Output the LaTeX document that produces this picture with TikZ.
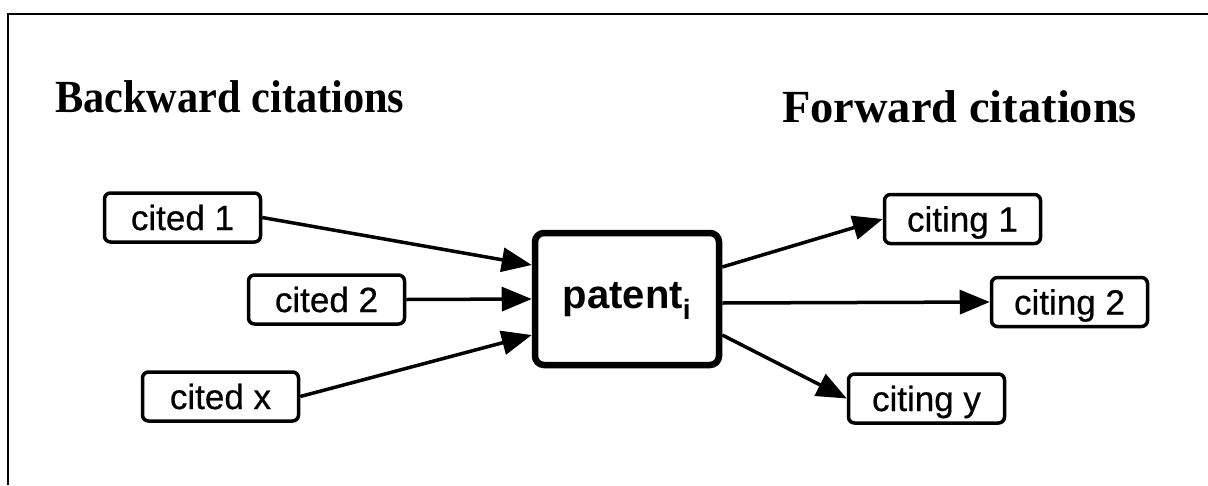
\documentclass[tikz,border=0pt]{standalone}
\usepackage{fontspec}
\setmainfont{Liberation Sans}
\newfontfamily\boxfont[FakeBold=0.6]{Liberation Sans}
\newfontfamily\titlefont[FakeStretch=0.92]{Liberation Serif}
\newfontfamily\titlefontb[FakeStretch=1.01]{Liberation Serif}
\usetikzlibrary{arrows.meta}
\begin{document}
\begin{tikzpicture}[x=1pt,y=-1pt,
  smallbox/.style={draw, line width=3.5pt, rounded corners=6pt, minimum width=156pt, minimum height=49pt,
    inner sep=0pt, text height=25pt, text depth=0pt, font=\fontsize{35}{40}\selectfont\boxfont},
  bigbox/.style={draw, line width=6.5pt, rounded corners=9pt, minimum width=184pt, minimum height=132pt,
    inner sep=0pt, text height=29pt, text depth=11pt, font=\fontsize{40}{46}\selectfont\bfseries},
  title/.style={anchor=base west, inner sep=0pt, font=\fontsize{46}{52}\selectfont\titlefont\bfseries},
  titleb/.style={anchor=base west, inner sep=0pt, font=\fontsize{46}{52}\selectfont\titlefontb\bfseries},
  conn/.style={line width=3.5pt, -{Triangle[length=30pt,width=24pt]}}
]
\useasboundingbox (0,0) rectangle (1208,485);
\fill[white] (0,0) rectangle (1208,485);
\draw[line width=1.8pt] (8,485) -- (8,14) -- (1208,14);

\node[title] (bt) at (55,112) {Backward citations};
\node[titleb] (ft) at (782,122) {Forward citations};

\node[smallbox] (c1) at (182.5,217.5) {cited 1};
\node[smallbox] (c2) at (326.5,299.5) {cited 2};
\node[smallbox] (cx) at (220.5,396.5) {cited x};
\node[bigbox] (p) at (627,299) {patent\textsubscript{i}};
\node[smallbox] (f1) at (962.5,219) {citing 1};
\node[smallbox] (f2) at (1069.5,302) {citing 2};
\node[smallbox] (fy) at (926.5,398.5) {citing y};

\draw[conn] (c1.east) -- ([yshift=34pt]p.west);
\draw[conn] (c2.east) -- (p.west);
\draw[conn] (cx.east) -- ([yshift=-36pt]p.west);
\draw[conn] ([yshift=32pt]p.east) -- (f1.west);
\draw[conn] ([yshift=-4pt]p.east) -- (f2.west);
\draw[conn] ([yshift=-36pt]p.east) -- (fy.west);
\end{tikzpicture}
\end{document}
